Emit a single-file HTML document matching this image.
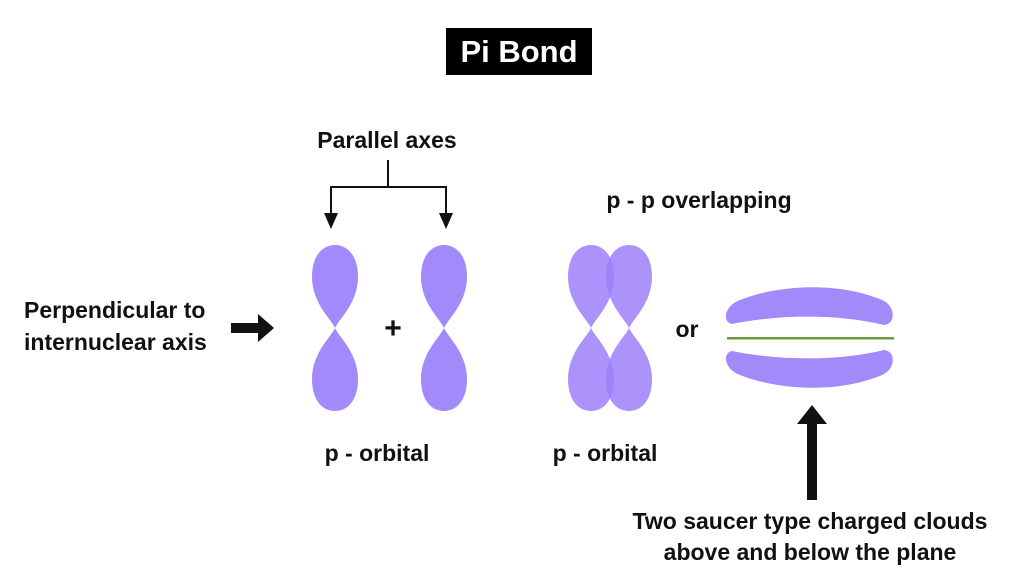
<!DOCTYPE html>
<html><head><style>
body{margin:0;background:#fff;}
svg{display:block}
text{font-family:"Liberation Sans",sans-serif;fill:#111;font-weight:bold;}
</style></head><body>
<svg width="1024" height="583" viewBox="0 0 1024 583">
<defs>
<path id="lt" d="M0,83 C-4,74 -23,58 -23,32 C-23,10 -12,0 0,0 C12,0 23,10 23,32 C23,58 4,74 0,83 Z"/>
<g id="orb">
<use href="#lt" transform="translate(0,245)"/>
<use href="#lt" transform="translate(0,411) scale(1,-1)"/>
</g>
</defs>
<rect x="446" y="28" width="146" height="47" fill="#000"/>
<text x="519" y="62" text-anchor="middle" font-size="31" style="fill:#fff">Pi Bond</text>
<text x="387" y="148" text-anchor="middle" font-size="23">Parallel axes</text>
<g stroke="#111" stroke-width="2" fill="none">
<path d="M388,160 V187 M331,187 H446 M331,186 V215 M446,186 V215"/>
</g>
<path d="M324,213 L338,213 L331,229 Z M439,213 L453,213 L446,229 Z" fill="#111"/>
<text x="699" y="208" text-anchor="middle" font-size="23">p - p overlapping</text>
<text x="24" y="318" font-size="23">Perpendicular to</text>
<text x="24" y="350" font-size="23">internuclear axis</text>
<path d="M231,323 H258 V314 L274,328 L258,342 V333 H231 Z" fill="#111"/>
<g fill="#a38afa">
<use href="#orb" transform="translate(335,0)"/>
<use href="#orb" transform="translate(444,0)"/>
</g>
<g fill="#9c80fa" fill-opacity="0.85">
<use href="#orb" transform="translate(591,0)"/>
<use href="#orb" transform="translate(629,0)"/>
</g>
<text x="393" y="338" text-anchor="middle" font-size="30">+</text>
<text x="687" y="337" text-anchor="middle" font-size="23">or</text>
<path fill="#a38afa" d="M732,324 C722,322 724,306 740,300 C780,284 840,282 882,300 C896,306 896,324 884,325 C840,314 780,314 732,324 Z"/>
<path fill="#a38afa" d="M732,351 C722,353 724,369 740,375 C780,391 840,393 882,375 C896,369 896,351 884,350 C840,361 780,361 732,351 Z"/>
<rect x="727" y="337" width="167" height="2.5" fill="#6a9a3a"/>
<text x="377" y="461" text-anchor="middle" font-size="23">p - orbital</text>
<text x="605" y="461" text-anchor="middle" font-size="23">p - orbital</text>
<path d="M807,500 V424 H797 L812,405 L827,424 H817 V500 Z" fill="#111"/>
<text x="810" y="529" text-anchor="middle" font-size="23">Two saucer type charged clouds</text>
<text x="810" y="560" text-anchor="middle" font-size="23">above and below the plane</text>
</svg>
</body></html>
